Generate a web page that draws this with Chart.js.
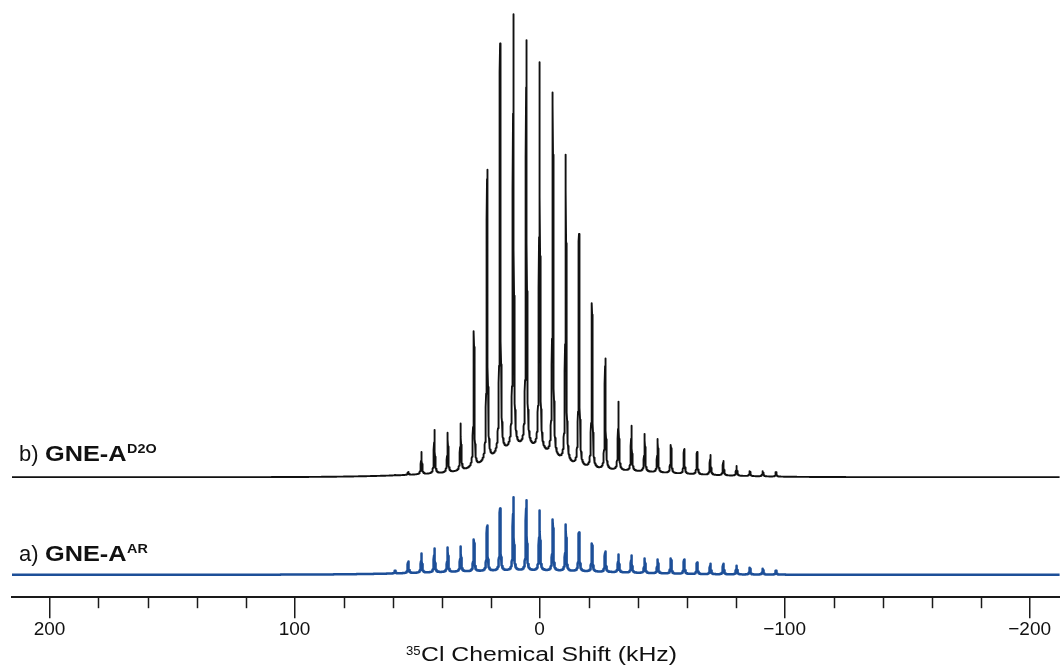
<!DOCTYPE html>
<html>
<head>
<meta charset="utf-8">
<script src="https://cdn.jsdelivr.net/npm/chart.js@4.4.1/dist/chart.umd.min.js"></script>
<style>
  html, body { margin: 0; padding: 0; background: #ffffff; }
  #wrap { width: 1060px; height: 665px; position: relative; }
</style>
</head>
<body>
<div id="wrap"><canvas id="c" width="1060" height="665"></canvas></div>
<script>
// ---------------- data ----------------
// spinning-sideband positions (kHz)
const sidebandShift = [59.0, 53.6, 48.2, 42.9, 37.5, 32.2, 26.8, 21.4, 16.1, 10.7, 5.4, 0.0,
  -5.4, -10.7, -16.1, -21.4, -26.8, -32.2, -37.5, -42.9, -48.2, -53.6, -59.0, -64.3,
  -69.7, -75.0, -80.4, -85.8, -91.1, -96.5];
// observed peak heights above baseline, b) GNE-A D2O (black)
const heightD2O = [3, 6, 26, 48, 45, 54, 146, 307, 433, 462, 436, 414,
  384, 322, 243, 174, 119, 76, 52, 44, 39, 33, 29, 26,
  23, 17, 12, 7, 7, 6];
// observed peak heights above baseline, a) GNE-A AR (blue)
const heightAR = [5, 14, 22, 27, 28, 29, 36, 50, 67, 78, 75, 65,
  56, 51, 43, 32, 24, 21, 20, 17, 16, 17, 16, 13,
  12, 12, 10, 8, 7, 5];
// broad underlying components (centre kHz, height, width kHz)
const humpCenterD2O = [7, -8];
const humpHeightD2O = [22, 8];
const humpWidthD2O = [11, 38];
const humpCenterAR = [5];
const humpHeightAR = [4];
const humpWidthAR = [35];
// axis ticks
const tickValues = [200, 180, 160, 140, 120, 100, 80, 60, 40, 20, 0, -20, -40, -60, -80, -100, -120, -140, -160, -180, -200];
const labeledTicks = [200, 100, 0, -100, -200];
const seriesPrefix = ['b)', 'a)'];
const seriesName = ['GNE-A', 'GNE-A'];
const seriesSup = ['D2O', 'AR'];

// ---------------- layout / style ----------------
const X_MAX = 215.3, X_MIN = -212.4;
const OFFSET_D2O = 120, OFFSET_AR = 22.5;
const HWHM = 0.22, STEP = 0.06;
const FONT = '"Liberation Sans", Arial, Helvetica, sans-serif';

function humpAt(x, c, h, w) {
  let y = 0;
  for (let i = 0; i < c.length; i++) y += h[i] * Math.exp(-((x - c[i]) ** 2) / (2 * w[i] * w[i]));
  return y;
}
function buildSpectrum(heights, hc, hh, hw, offset) {
  const xs = [];
  const n = Math.round((X_MAX - X_MIN) / STEP);
  for (let i = 0; i <= n; i++) xs.push(X_MAX - i * STEP);
  sidebandShift.forEach(s => xs.push(s));
  xs.sort((a, b) => b - a);
  const amps = heights.map((h, i) => Math.max(h - 1 - humpAt(sidebandShift[i], hc, hh, hw), 0));
  return xs.map(x => {
    let y = offset + humpAt(x, hc, hh, hw);
    for (let k = 0; k < sidebandShift.length; k++) {
      const d = (x - sidebandShift[k]) / HWHM;
      y += amps[k] / (1 + d * d);
    }
    return { x, y };
  });
}

const dataD2O = buildSpectrum(heightD2O, humpCenterD2O, humpHeightD2O, humpWidthD2O, OFFSET_D2O);
const dataAR = buildSpectrum(heightAR, humpCenterAR, humpHeightAR, humpWidthAR, OFFSET_AR);

function fmt(v) { return v < 0 ? '\u2212' + Math.abs(v) : String(v); }

// draw text horizontally stretched by factor sx, returns drawn width
function stretchText(ctx, text, x, y, font, sx) {
  ctx.font = font;
  const w = ctx.measureText(text).width;
  ctx.save();
  ctx.translate(x, y);
  ctx.scale(sx, 1);
  ctx.fillText(text, 0, 0);
  ctx.restore();
  return w * sx;
}

const overlay = {
  id: 'overlay',
  afterDraw(chart) {
    const ctx = chart.ctx;
    const xs = chart.scales.x;
    const y0 = xs.top;
    ctx.save();
    // minor ticks
    ctx.strokeStyle = '#1a1a1a';
    ctx.lineWidth = 1.5;
    tickValues.forEach(v => {
      if (labeledTicks.includes(v)) return;
      const px = Math.round(xs.getPixelForValue(v)) + 0.5;
      ctx.beginPath();
      ctx.moveTo(px, y0);
      ctx.lineTo(px, y0 + 11);
      ctx.stroke();
    });
    // series labels
    ctx.fillStyle = '#111';
    ctx.textBaseline = 'alphabetic';
    const bases = [461, 561];
    bases.forEach((base, i) => {
      stretchText(ctx, seriesPrefix[i], 19, base, '22px ' + FONT, 1.0);
      const w = stretchText(ctx, seriesName[i], 45, base, 'bold 22px ' + FONT, 1.15);
      stretchText(ctx, seriesSup[i], 45 + w + 0.5, base - 8, 'bold 12.5px ' + FONT, 1.15);
    });
    // axis title
    const main = 'Cl Chemical Shift (kHz)';
    ctx.font = '19.5px ' + FONT;
    const w0 = ctx.measureText(main).width;
    stretchText(ctx, '35', 406, 655, '12.5px ' + FONT, 1.05);
    stretchText(ctx, main, 421, 661, '19.5px ' + FONT, 256 / w0);
    ctx.restore();
  }
};

new Chart(document.getElementById('c'), {
  type: 'line',
  data: {
    datasets: [
      { label: 'b) GNE-A D2O', data: dataD2O, borderColor: '#111111', borderWidth: 1.9,
        pointRadius: 0, borderJoinStyle: 'round', tension: 0, fill: false },
      { label: 'a) GNE-A AR', data: dataAR, borderColor: '#1d4f98', borderWidth: 2.5,
        pointRadius: 0, borderJoinStyle: 'round', tension: 0, fill: false }
    ]
  },
  options: {
    responsive: false,
    animation: false,
    devicePixelRatio: 1,
    parsing: false,
    normalized: true,
    events: [],
    layout: { padding: { left: 12, right: 0, top: 0, bottom: 24 } },
    plugins: { legend: { display: false }, tooltip: { enabled: false }, decimation: { enabled: false } },
    scales: {
      x: {
        type: 'linear',
        reverse: true,
        min: X_MIN,
        max: X_MAX,
        afterBuildTicks: s => { s.ticks = tickValues.map(v => ({ value: v })); },
        border: { display: true, color: '#1a1a1a', width: 2 },
        grid: {
          drawOnChartArea: false,
          drawTicks: true,
          tickLength: 21,
          lineWidth: 1.5,
          color: c => (c.tick && labeledTicks.includes(c.tick.value)) ? '#1a1a1a' : 'rgba(0,0,0,0)'
        },
        ticks: {
          autoSkip: false,
          maxRotation: 0,
          padding: 0,
          color: '#111',
          font: { family: FONT, size: 19 },
          callback: v => labeledTicks.includes(v) ? fmt(v) : ''
        }
      },
      y: { display: false, min: 0, max: 597 }
    }
  },
  plugins: [overlay]
});
</script>
</body>
</html>
